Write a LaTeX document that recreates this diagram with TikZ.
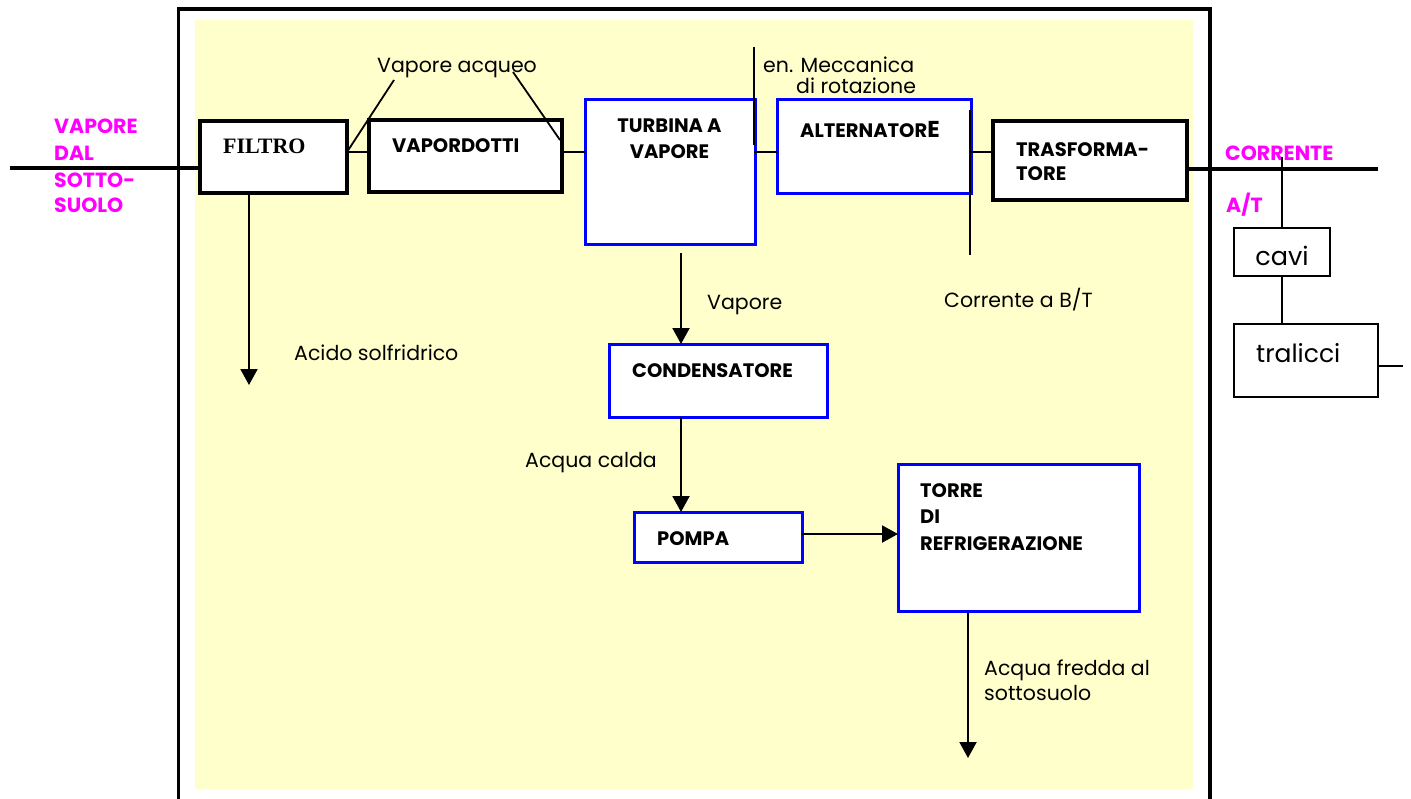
\documentclass[tikz,border=0pt]{standalone}
\usepackage{fontspec}
\setmainfont{Poppins}
\newfontfamily\serifb{Liberation Serif}
\usetikzlibrary{arrows.meta}
\definecolor{bgyellow}{HTML}{FFFFCC}
\definecolor{mag}{HTML}{FF00FF}
\definecolor{bblue}{HTML}{0000FF}
\begin{document}
\begin{tikzpicture}[x=1pt,y=-1pt,
 blackbox/.style={draw=black,line width=3.5pt,fill=white,inner sep=0,outer sep=0,anchor=north west},
 bluebox/.style={draw=bblue,line width=3pt,fill=white,inner sep=0,outer sep=0,anchor=north west},
 thinbox/.style={draw=black,line width=1.6pt,fill=white,inner sep=0,outer sep=0,anchor=north west},
 boxlabel/.style={anchor=base west,inner sep=0,font=\fontsize{19.5}{22}\selectfont\bfseries},
 lab/.style={anchor=base west,inner sep=0,font=\fontsize{20.5}{24}\selectfont},
 maglab/.style={anchor=base west,inner sep=0,text=mag,font=\fontsize{20.5}{24}\selectfont\bfseries},
 thinline/.style={line width=1.8pt},
 thickline/.style={line width=3.5pt},
 flow/.style={line width=2pt,-{Triangle[width=17pt,length=16pt]}},
]
\useasboundingbox (0,0) rectangle (1411,798);
\fill[bgyellow] (195,20) rectangle (1193,789);
\draw[thickline,line join=miter] (178.5,802) -- (178.5,9) -- (1210,9) -- (1210,802);

% named coordinates
\coordinate (inleft) at (10,168);
\coordinate (outright) at (1378,169);
\coordinate (row) at (0,152);
\coordinate (prow) at (0,534);
\coordinate (va1) at (394,80);
\coordinate (va2) at (513,72);
\coordinate (va3) at (560,140);
\coordinate (em1) at (754,47);
\coordinate (em2) at (754,145);
\coordinate (bt1) at (970,110);
\coordinate (bt2) at (970,255);
\coordinate (at1) at (1282,157);
\coordinate (tr1) at (1403,366);
\coordinate (a1) at (249,385);
\coordinate (cx) at (681,253);
\coordinate (a2) at (968,758);

% labels drawn before boxes
\node[lab] (lvapac) at (377,72) {Vapore acqueo};
\node[lab] (lenm) at (763,72) {en. Meccanica};
\node[lab] (ldirot) at (796,93) {di rotazione};
\node[lab] (lcorbt) at (944,307) {Corrente a B/T};
\node[lab] (lvap) at (707,309) {Vapore};
\node[lab] (lacido) at (294,360) {Acido solfridrico};
\node[lab] (lcalda) at (525,467) {Acqua calda};
\node[lab] (lfredda1) at (984,675) {Acqua fredda al};
\node[lab] (lfredda2) at (984,700) {sottosuolo};

\node[maglab] (m1) at (54,133) {VAPORE};
\node[maglab] (m2) at (54,160) {DAL};
\node[maglab] (m3) at (54,187) {SOTTO-};
\node[maglab] (m4) at (54,212) {SUOLO};
\node[maglab] (m5) at (1225,160) {CORRENTE};
\node[maglab] (m6) at (1226,212) {A/T};

% boxes
\node[blackbox,minimum width=147,minimum height=72] (filtro) at (200,121) {};
\node[blackbox,minimum width=193,minimum height=72] (vapordotti) at (369,120) {};
\node[bluebox,minimum width=170,minimum height=145] (turbina) at (585,99) {};
\node[bluebox,minimum width=194,minimum height=94] (alternatore) at (777,99) {};
\node[blackbox,minimum width=194,minimum height=79] (trasf) at (993,121) {};
\node[bluebox,minimum width=218,minimum height=73] (condens) at (609,344) {};
\node[bluebox,minimum width=168,minimum height=50] (pompa) at (634,512) {};
\node[bluebox,minimum width=241,minimum height=147] (torre) at (898,464) {};
\node[thinbox,minimum width=96,minimum height=48] (cavi) at (1234,228) {};
\node[thinbox,minimum width=144,minimum height=73] (tralicci) at (1234,324) {};

% main lines
\draw[thickline] (inleft) -- (inleft -| filtro.west);
\draw[thickline] (outright -| trasf.east) -- (outright);

% box texts
\node[anchor=base west,inner sep=0,font=\serifb\bfseries\fontsize{22}{24}\selectfont] (tfiltro) at (223,153) {FILTRO};
\node[boxlabel] (tvapordotti) at (392,152) {VAPORDOTTI};
\node[boxlabel,anchor=base] (tturb1) at (669.5,132) {TURBINA A};
\node[boxlabel,anchor=base] (tturb2) at (669.5,158) {VAPORE};
\node[boxlabel] (talt) at (800,137) {ALTERNATOR{\fontsize{23}{24}\selectfont E}};
\node[boxlabel] (ttr1) at (1016,156) {TRASFORMA-};
\node[boxlabel] (ttr2) at (1016,180) {TORE};
\node[boxlabel] (tcond) at (632,377) {CONDENSATORE};
\node[boxlabel] (tpompa) at (657,545) {POMPA};
\node[boxlabel] (ttorre1) at (920,497) {TORRE};
\node[boxlabel] (ttorre2) at (920,523) {DI};
\node[boxlabel] (ttorre3) at (920,550) {REFRIGERAZIONE};
\node[anchor=base,inner sep=0,font=\fontsize{25.5}{28}\selectfont] (tcavi) at (1282,265) {cavi};
\node[anchor=base west,inner sep=0,font=\fontsize{25}{28}\selectfont] (ttral) at (1256,362) {tralicci};

% connectors
\draw[thinline] (filtro.east |- row) -- (vapordotti.west |- row);
\draw[thinline] (vapordotti.east |- row) -- (turbina.west |- row);
\draw[thinline] (em2 |- row) -- (alternatore.west |- row);
\draw[thinline] (alternatore.east |- row) -- (trasf.west |- row);
\draw[thinline] (filtro.east |- row) -- (va1);
\draw[thinline] (va2) -- (va3);
\draw[thinline] (em1) -- (em2);
\draw[thinline] (bt1) -- (bt2);
\draw[thinline] (at1) -- (cavi.north);
\draw[thinline] (cavi.south) -- (cavi.south |- tralicci.north);
\draw[thinline] (tralicci.east |- tr1) -- (tr1);

% arrows
\draw[flow] (filtro.south -| a1) -- (a1);
\draw[flow] (cx) -- (condens.north -| cx);
\draw[flow] (condens.south -| cx) -- (pompa.north -| cx);
\draw[flow] (pompa.east |- prow) -- (torre.west |- prow);
\draw[flow] (torre.south -| a2) ++(0,2) -- (a2);
\end{tikzpicture}
\end{document}
